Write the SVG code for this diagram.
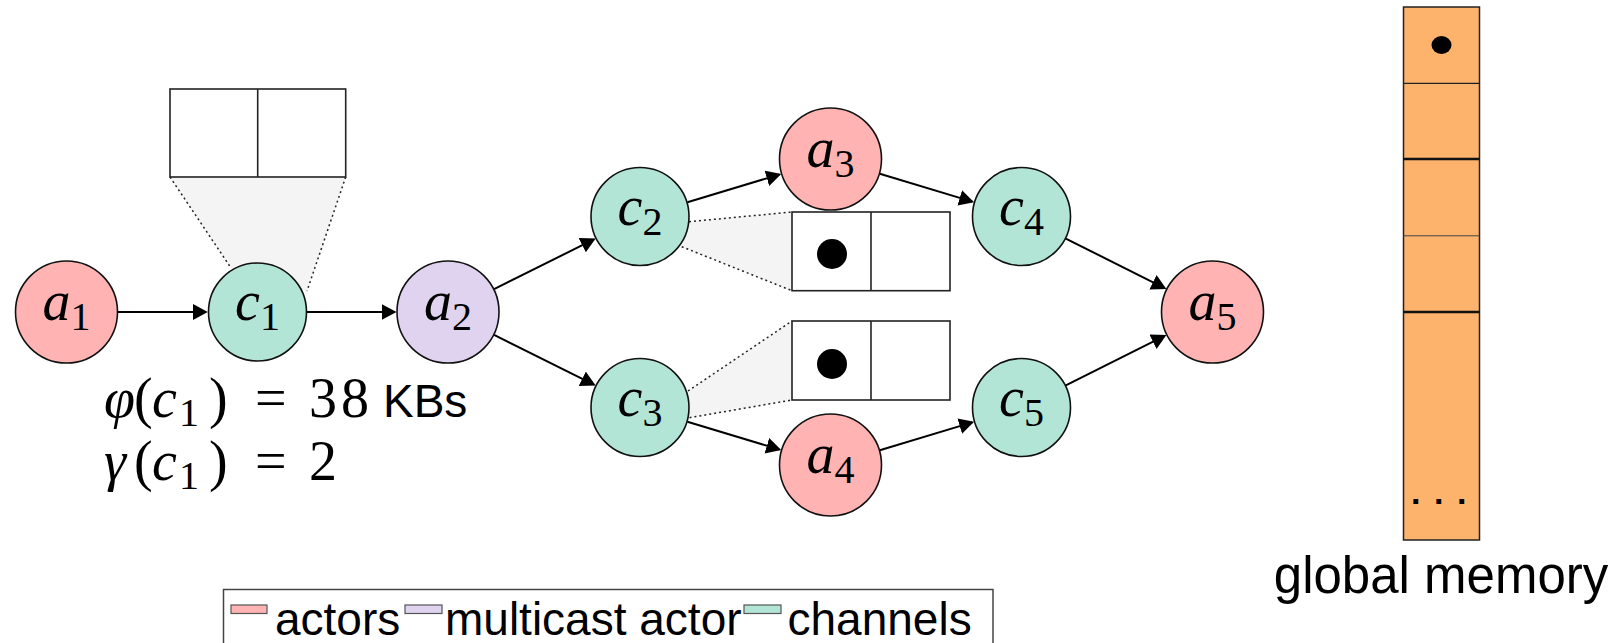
<svg xmlns="http://www.w3.org/2000/svg" width="1614" height="643" viewBox="0 0 1614 643">
  <defs>
    <marker id="arrow" markerUnits="userSpaceOnUse" markerWidth="17" markerHeight="17" refX="13" refY="8" orient="auto">
      <path d="M0,0 L15,8 L0,16 z" fill="#000"/>
    </marker>
  </defs>

  <rect width="1614" height="643" fill="#fff"/>

  <!-- buffer fans (drawn under the nodes) -->
  <g id="fans">
    <g fill="#f4f4f4" stroke="none">
      <polygon points="170,177 345.7,177 307,291 231,268"/>
      <polygon points="689,221.7 792,212 792,290.7 681.7,246.7"/>
      <polygon points="688,391 792,321 792,400 689.5,417.7"/>
    </g>
    <g stroke="#222" stroke-width="1.5" stroke-dasharray="2 3" fill="none">
      <line x1="170" y1="177" x2="231" y2="268"/>
      <line x1="345.7" y1="177" x2="307" y2="291"/>
      <line x1="689" y1="221.7" x2="792" y2="212"/>
      <line x1="681.7" y1="246.7" x2="792" y2="290.7"/>
      <line x1="688" y1="391" x2="792" y2="321"/>
      <line x1="689.5" y1="417.7" x2="792" y2="400"/>
    </g>
  </g>

  <!-- buffers -->
  <g fill="#fff" stroke="#222" stroke-width="1.6">
    <g id="buffer-c1">
      <rect x="170" y="89" width="175.7" height="88"/>
      <line x1="257.7" y1="89" x2="257.7" y2="177"/>
    </g>
    <g id="buffer-c2">
      <rect x="792" y="212" width="158" height="78.7"/>
      <line x1="871" y1="212" x2="871" y2="290.7"/>
      <circle cx="832" cy="254" r="15" fill="#000" stroke="none"/>
    </g>
    <g id="buffer-c3">
      <rect x="792" y="321" width="158" height="79"/>
      <line x1="871" y1="321" x2="871" y2="400"/>
      <circle cx="832" cy="364" r="15" fill="#000" stroke="none"/>
    </g>
  </g>

  <!-- connectors -->
  <g id="connectors" stroke="#000" stroke-width="2" fill="none" marker-end="url(#arrow)">
    <line x1="117.5" y1="312" x2="205.8" y2="312"/>
    <line x1="307" y1="312" x2="394.5" y2="312"/>
    <line x1="494.1" y1="289.1" x2="593.9" y2="239.4"/>
    <line x1="494.1" y1="334.9" x2="593.9" y2="384.6"/>
    <line x1="687.4" y1="202.2" x2="779.3" y2="174.5"/>
    <line x1="687.4" y1="421.8" x2="779.3" y2="449.5"/>
    <line x1="879.8" y1="173.8" x2="972.2" y2="201.6"/>
    <line x1="879.8" y1="450.2" x2="972.2" y2="422.4"/>
    <line x1="1065.8" y1="238.6" x2="1164.6" y2="288.1"/>
    <line x1="1065.8" y1="385.4" x2="1164.6" y2="335.9"/>
  </g>

  <!-- nodes -->
  <g id="nodes" stroke="#111" stroke-width="1.6">
    <g id="a1">
      <circle fill="#ffb3b3" cx="66.5" cy="312" r="51"/>
      <text stroke="none" fill="#000" font-family="Liberation Serif" font-size="56" x="66.5" y="320" text-anchor="middle"><tspan font-style="italic">a</tspan><tspan font-size="40" dy="10">1</tspan></text>
    </g>
    <g id="c1">
      <circle fill="#b3e5d6" cx="257.5" cy="312" r="49"/>
      <text stroke="none" fill="#000" font-family="Liberation Serif" font-size="56" x="257.5" y="320" text-anchor="middle"><tspan font-style="italic">c</tspan><tspan font-size="40" dy="10">1</tspan></text>
    </g>
    <g id="a2">
      <circle fill="#e0d3f0" cx="448" cy="312" r="51"/>
      <text stroke="none" fill="#000" font-family="Liberation Serif" font-size="56" x="448" y="320" text-anchor="middle"><tspan font-style="italic">a</tspan><tspan font-size="40" dy="10">2</tspan></text>
    </g>
    <g id="c2">
      <circle fill="#b3e5d6" cx="640" cy="216.5" r="49"/>
      <text stroke="none" fill="#000" font-family="Liberation Serif" font-size="56" x="640" y="224.5" text-anchor="middle"><tspan font-style="italic">c</tspan><tspan font-size="40" dy="10">2</tspan></text>
    </g>
    <g id="c3">
      <circle fill="#b3e5d6" cx="640" cy="407.5" r="49"/>
      <text stroke="none" fill="#000" font-family="Liberation Serif" font-size="56" x="640" y="415.5" text-anchor="middle"><tspan font-style="italic">c</tspan><tspan font-size="40" dy="10">3</tspan></text>
    </g>
    <g id="a3">
      <circle fill="#ffb3b3" cx="830.5" cy="159" r="51"/>
      <text stroke="none" fill="#000" font-family="Liberation Serif" font-size="56" x="830.5" y="167" text-anchor="middle"><tspan font-style="italic">a</tspan><tspan font-size="40" dy="10">3</tspan></text>
    </g>
    <g id="a4">
      <circle fill="#ffb3b3" cx="830.5" cy="465" r="51"/>
      <text stroke="none" fill="#000" font-family="Liberation Serif" font-size="56" x="830.5" y="473" text-anchor="middle"><tspan font-style="italic">a</tspan><tspan font-size="40" dy="10">4</tspan></text>
    </g>
    <g id="c4">
      <circle fill="#b3e5d6" cx="1021.5" cy="216.5" r="49"/>
      <text stroke="none" fill="#000" font-family="Liberation Serif" font-size="56" x="1021.5" y="224.5" text-anchor="middle"><tspan font-style="italic">c</tspan><tspan font-size="40" dy="10">4</tspan></text>
    </g>
    <g id="c5">
      <circle fill="#b3e5d6" cx="1021.5" cy="407.5" r="49"/>
      <text stroke="none" fill="#000" font-family="Liberation Serif" font-size="56" x="1021.5" y="415.5" text-anchor="middle"><tspan font-style="italic">c</tspan><tspan font-size="40" dy="10">5</tspan></text>
    </g>
    <g id="a5">
      <circle fill="#ffb3b3" cx="1212.5" cy="312" r="51"/>
      <text stroke="none" fill="#000" font-family="Liberation Serif" font-size="56" x="1212.5" y="320" text-anchor="middle"><tspan font-style="italic">a</tspan><tspan font-size="40" dy="10">5</tspan></text>
    </g>
  </g>

  <!-- channel properties of c1 -->
  <g id="c1-props" fill="#000">
    <text font-family="Liberation Serif" font-size="56" x="104" y="416.5"><tspan font-style="italic">φ</tspan><tspan x="134">(</tspan><tspan x="152" font-style="italic">c</tspan><tspan x="179" y="425.5" font-size="40">1</tspan><tspan x="209" y="416.5">)</tspan></text>
    <text font-family="Liberation Serif" font-size="56" x="255" y="416.5">=</text>
    <text font-family="Liberation Serif" font-size="56" x="309" y="416.5" letter-spacing="4">38</text>
    <text font-family="Liberation Sans" font-size="46" x="383" y="416.5">KBs</text>
    <text font-family="Liberation Serif" font-size="56" x="104" y="480"><tspan font-style="italic">γ</tspan><tspan x="134">(</tspan><tspan x="152" font-style="italic">c</tspan><tspan x="179" y="489" font-size="40">1</tspan><tspan x="209" y="480">)</tspan></text>
    <text font-family="Liberation Serif" font-size="56" x="255" y="480">=</text>
    <text font-family="Liberation Serif" font-size="56" x="309" y="480">2</text>
  </g>

  <!-- global memory column -->
  <g id="global-memory">
    <rect x="1403.5" y="7" width="76" height="533" fill="#fdb36b" stroke="#222" stroke-width="1.5"/>
    <line x1="1403.5" y1="83.3" x2="1479.5" y2="83.3" stroke="#222" stroke-width="1.3"/>
    <line x1="1403.5" y1="159" x2="1479.5" y2="159" stroke="#111" stroke-width="2.5"/>
    <line x1="1403.5" y1="235.8" x2="1479.5" y2="235.8" stroke="#444" stroke-width="1"/>
    <line x1="1403.5" y1="311.9" x2="1479.5" y2="311.9" stroke="#111" stroke-width="2.5"/>
    <ellipse cx="1441.5" cy="45" rx="10" ry="9" fill="#000"/>
    <text font-family="Liberation Sans" x="1411" y="504" font-size="34" font-weight="bold" letter-spacing="13.5" fill="#000">...</text>
    <text font-family="Liberation Sans" x="1441" y="593" font-size="51" text-anchor="middle" fill="#000">global memory</text>
  </g>

  <!-- legend -->
  <g id="legend">
    <rect x="223.5" y="589.5" width="769.5" height="70" fill="#fff" stroke="#444" stroke-width="1.5"/>
    <g stroke="#555" stroke-width="1.2">
      <rect x="231" y="605" width="36" height="8.5" fill="#ffb3b3"/>
      <rect x="405" y="605" width="37" height="8.5" fill="#e0d3f0"/>
      <rect x="744" y="605" width="37" height="8.5" fill="#b3e5d6"/>
    </g>
    <g font-family="Liberation Sans" font-size="46" fill="#000">
      <text x="275" y="635">actors</text>
      <text x="445" y="635">multicast actor</text>
      <text x="787.5" y="635">channels</text>
    </g>
  </g>
</svg>
